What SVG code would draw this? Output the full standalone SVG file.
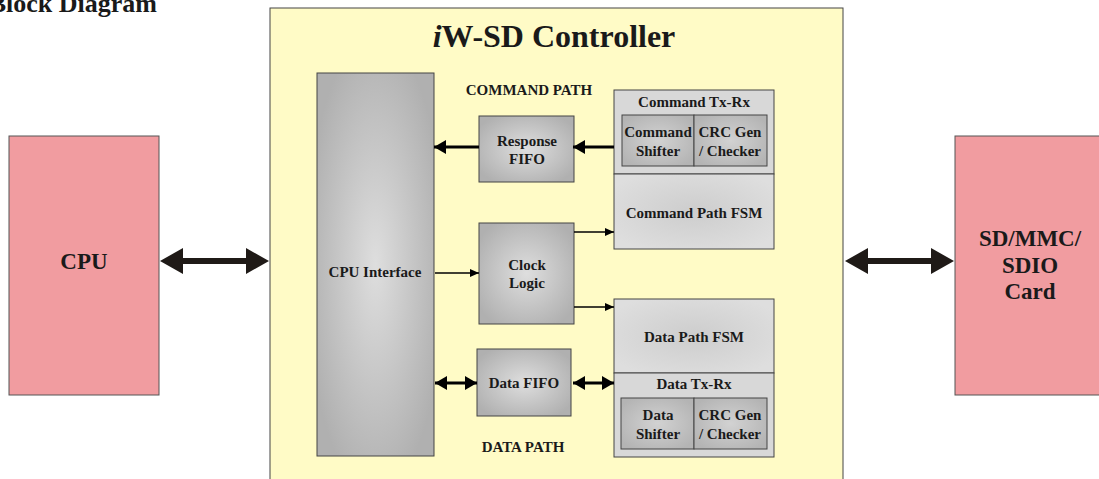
<svg xmlns="http://www.w3.org/2000/svg" width="1099" height="479" viewBox="0 0 1099 479">
<defs>
<style>
text{font-family:"Liberation Serif","Times New Roman",serif;font-weight:bold;fill:#1a1a1a;text-anchor:middle}
.ext{fill:#f19ca0;stroke:#555;stroke-width:1}
.blk{stroke:#444;stroke-width:1}
.t15{font-size:15px}
.big{font-size:23px}
.ln{stroke:#000;fill:none}
</style>
<radialGradient id="g1" cx="0.5" cy="0.5" r="0.6">
<stop offset="0" stop-color="#dedede"/>
<stop offset="1" stop-color="#b0b0b0"/>
</radialGradient>
<radialGradient id="g2" cx="0.5" cy="0.5" r="0.6">
<stop offset="0" stop-color="#d2d2d2"/>
<stop offset="1" stop-color="#b4b4b4"/>
</radialGradient>
<radialGradient id="g3" cx="0.5" cy="0.5" r="0.6">
<stop offset="0" stop-color="#cdcdcd"/>
<stop offset="1" stop-color="#dedede"/>
</radialGradient>
<marker id="ah" markerUnits="userSpaceOnUse" markerWidth="13" markerHeight="15" refX="12" refY="7" orient="auto-start-reverse">
<path d="M0,0 L12,7 L0,14 z" fill="#000"/>
</marker>
<marker id="as" markerUnits="userSpaceOnUse" markerWidth="10" markerHeight="9" refX="9" refY="4" orient="auto">
<path d="M0,0 L9,4 L0,8 z" fill="#000"/>
</marker>
</defs>
<rect width="1099" height="479" fill="#fff"/>
<text x="157" y="12" style="font-size:26px;text-anchor:end">Block Diagram</text>

<g id="controller">
<rect x="270" y="8" width="573" height="480" fill="#fffbc6" stroke="#444" stroke-width="1"/>
<text x="554" y="47" style="font-size:32px"><tspan font-style="italic">i</tspan>W-SD Controller</text>
<text x="529" y="95" class="t15">COMMAND PATH</text>
<text x="523" y="452" class="t15">DATA PATH</text>
</g>

<g id="cpu">
<rect class="ext" x="9" y="136" width="150" height="259"/>
<text x="84" y="269" class="big">CPU</text>
</g>

<g id="sdcard">
<rect class="ext" x="955" y="136" width="150" height="259"/>
<text x="1030" y="246" class="big">SD/MMC/</text>
<text x="1030" y="273" class="big">SDIO</text>
<text x="1030" y="299" class="big">Card</text>
</g>

<g id="cpu-interface">
<rect class="blk" x="317" y="73" width="117" height="383" fill="url(#g1)"/>
<text x="375" y="277" class="t15">CPU Interface</text>
</g>

<g id="response-fifo">
<rect class="blk" x="479" y="116" width="95" height="66" fill="url(#g1)"/>
<text x="527" y="146" class="t15">Response</text>
<text x="527" y="164" class="t15">FIFO</text>
</g>

<g id="clock-logic">
<rect class="blk" x="479" y="223" width="95" height="101" fill="url(#g1)"/>
<text x="527" y="270" class="t15">Clock</text>
<text x="527" y="288" class="t15">Logic</text>
</g>

<g id="data-fifo">
<rect class="blk" x="477" y="349" width="94" height="67" fill="url(#g1)"/>
<text x="524" y="388" class="t15">Data FIFO</text>
</g>

<g id="command-txrx">
<rect class="blk" x="614" y="90" width="160" height="84" fill="#d8d8d8"/>
<text x="694" y="107" class="t15">Command Tx-Rx</text>
<rect class="blk" x="622" y="115" width="72" height="51" fill="url(#g2)"/>
<rect class="blk" x="694" y="115" width="73" height="51" fill="url(#g2)"/>
<text x="658" y="137" class="t15">Command</text>
<text x="658" y="156" class="t15">Shifter</text>
<text x="730" y="137" class="t15">CRC Gen</text>
<text x="730" y="156" class="t15">/ Checker</text>
</g>

<g id="command-path-fsm">
<rect class="blk" x="614" y="174" width="160" height="75" fill="url(#g3)"/>
<text x="694" y="218" class="t15">Command Path FSM</text>
</g>

<g id="data-path-fsm">
<rect class="blk" x="614" y="299" width="160" height="74" fill="url(#g3)"/>
<text x="694" y="342" class="t15">Data Path FSM</text>
</g>

<g id="data-txrx">
<rect class="blk" x="614" y="373" width="160" height="84" fill="#d8d8d8"/>
<text x="694" y="389" class="t15">Data Tx-Rx</text>
<rect class="blk" x="621" y="398" width="73" height="51" fill="url(#g2)"/>
<rect class="blk" x="694" y="398" width="73" height="51" fill="url(#g2)"/>
<text x="658" y="420" class="t15">Data</text>
<text x="658" y="439" class="t15">Shifter</text>
<text x="730" y="420" class="t15">CRC Gen</text>
<text x="730" y="439" class="t15">/ Checker</text>
</g>

<g id="connectors">
<polygon fill="#1f1a17" points="160,261 183,248 183,258 246,258 246,248 269,261 246,274 246,264 183,264 183,274"/>
<polygon fill="#1f1a17" points="845,261 868,248 868,258 931,258 931,248 954,261 931,274 931,264 868,264 868,274"/>
<line class="ln" x1="479" y1="147" x2="434" y2="147" stroke-width="3" marker-end="url(#ah)"/>
<line class="ln" x1="614" y1="147" x2="573" y2="147" stroke-width="3" marker-end="url(#ah)"/>
<line class="ln" x1="435" y1="383" x2="477" y2="383" stroke-width="3" marker-start="url(#ah)" marker-end="url(#ah)"/>
<line class="ln" x1="573" y1="383" x2="614" y2="383" stroke-width="3" marker-start="url(#ah)" marker-end="url(#ah)"/>
<line class="ln" x1="435" y1="273" x2="479" y2="273" stroke-width="1.3" marker-end="url(#as)"/>
<line class="ln" x1="574" y1="232" x2="614" y2="232" stroke-width="1.3" marker-end="url(#as)"/>
<line class="ln" x1="574" y1="307" x2="614" y2="307" stroke-width="1.3" marker-end="url(#as)"/>
</g>
</svg>
